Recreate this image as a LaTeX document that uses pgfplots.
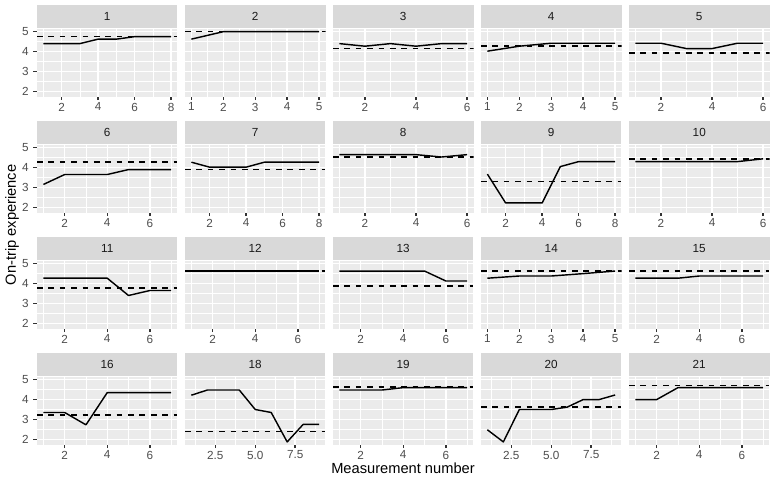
\documentclass[border=0pt]{standalone}
\usepackage{fontspec}
\setmainfont{Liberation Sans}
\usepackage{pgfplots}
\pgfplotsset{compat=1.18}

\definecolor{panelbg}{HTML}{EBEBEB}
\definecolor{stripbg}{HTML}{D9D9D9}
\definecolor{ticktext}{HTML}{4D4D4D}
\definecolor{tickline}{HTML}{333333}
\definecolor{striptext}{HTML}{1A1A1A}

\pgfplotsset{
  facet/.style={
    scale only axis, width=105.375pt, height=51pt,
    anchor=north west,
    ymin=1.74, ymax=5.16,
    ytick={2,3,4,5}, minor ytick={2.5,3.5,4.5},
    grid=both,
    major grid style={white, line width=1.07pt},
    minor grid style={white, line width=0.53pt},
    axis background/.style={fill=panelbg},
    axis line style={draw=none},
    tick pos=left, tick align=outside,
    major tick length=2.75pt, minor tick length=0pt,
    major tick style={draw=tickline, line width=1.07pt},
    minor tick style={draw=none},
    ticklabel style={font=\fontsize{8.8}{10}\selectfont, text=ticktext},
    xticklabel style={yshift=1.5pt},
    /pgf/number format/assume math mode=true,
    every axis title/.style={at={(0.5,1)}, anchor=south, fill=stripbg,
      minimum width=105.375pt, minimum height=17.25pt, inner sep=0pt,
      font=\fontsize{8.8}{10}\selectfont, text=striptext},
  },
  inner/.style={ymajorticks=false},
  xr5/.style={xmin=0.8, xmax=5.2, xtick={1,2,3,4,5}, minor xtick={1.5,2.5,3.5,4.5}},
  xr6/.style={xmin=0.75, xmax=6.25, xtick={2,4,6}, minor xtick={1,3,5}},
  xr7/.style={xmin=0.7, xmax=7.3, xtick={2,4,6}, minor xtick={1,3,5,7}},
  xr8/.style={xmin=0.65, xmax=8.35, xtick={2,4,6,8}, minor xtick={1,3,5,7}},
  xr9/.style={xmin=0.6, xmax=9.4, xtick={2.5,5,7.5}, xticklabels={2.5,5.0,7.5},
    minor xtick={1.25,3.75,6.25,8.75}},
  trend/.style={black, line width=1.07pt, line join=round},
  ref/.style={black, line width=1.07pt, dash pattern=on 4.27pt off 4.27pt},
}

\begin{document}
\begin{tikzpicture}
\path[use as bounding box] (0,0) rectangle (582pt,-361.5pt);

% ---------- row 1 ----------
\begin{axis}[facet, xr8, at={(27.75pt,-21.375pt)}, title={1}]
\addplot[trend] coordinates {(1,4.4)(2,4.4)(3,4.4)(4,4.625)(5,4.625)(6,4.75)(7,4.75)(8,4.75)};
\addplot[ref] coordinates {(0.65,4.75)(8.35,4.75)};
\end{axis}
\begin{axis}[facet, inner, xr5, at={(138.75pt,-21.375pt)}, title={2}]
\addplot[trend] coordinates {(1,4.625)(2,5)(3,5)(4,5)(5,5)};
\addplot[ref] coordinates {(0.8,5)(5.2,5)};
\end{axis}
\begin{axis}[facet, inner, xr6, at={(249.75pt,-21.375pt)}, title={3}]
\addplot[trend] coordinates {(1,4.4)(2,4.27)(3,4.4)(4,4.27)(5,4.4)(6,4.4)};
\addplot[ref] coordinates {(0.75,4.15)(6.25,4.15)};
\end{axis}
\begin{axis}[facet, inner, xr5, at={(360.75pt,-21.375pt)}, title={4}]
\addplot[trend] coordinates {(1,4.02)(2,4.27)(3,4.42)(4,4.42)(5,4.42)};
\addplot[ref] coordinates {(0.8,4.28)(5.2,4.28)};
\end{axis}
\begin{axis}[facet, inner, xr6, at={(471.75pt,-21.375pt)}, title={5}]
\addplot[trend] coordinates {(1,4.42)(2,4.42)(3,4.15)(4,4.15)(5,4.42)(6,4.42)};
\addplot[ref] coordinates {(0.75,3.92)(6.25,3.92)};
\end{axis}

% ---------- row 2 ----------
\begin{axis}[facet, xr7, at={(27.75pt,-108.375pt)}, title={6}]
\addplot[trend] coordinates {(1,3.15)(2,3.65)(3,3.65)(4,3.65)(5,3.9)(6,3.9)(7,3.9)};
\addplot[ref] coordinates {(0.7,4.27)(7.3,4.27)};
\end{axis}
\begin{axis}[facet, inner, xr8, at={(138.75pt,-108.375pt)}, title={7}]
\addplot[trend] coordinates {(1,4.27)(2,4.02)(3,4.02)(4,4.02)(5,4.27)(6,4.27)(7,4.27)(8,4.27)};
\addplot[ref] coordinates {(0.65,3.9)(8.35,3.9)};
\end{axis}
\begin{axis}[facet, inner, xr6, at={(249.75pt,-108.375pt)}, title={8}]
\addplot[trend] coordinates {(1,4.65)(2,4.65)(3,4.65)(4,4.65)(5,4.53)(6,4.65)};
\addplot[ref] coordinates {(0.75,4.53)(6.25,4.53)};
\end{axis}
\begin{axis}[facet, inner, xr8, at={(360.75pt,-108.375pt)}, title={9}]
\addplot[trend] coordinates {(1,3.67)(2,2.22)(3,2.22)(4,2.22)(5,4.05)(6,4.3)(7,4.3)(8,4.3)};
\addplot[ref] coordinates {(0.65,3.31)(8.35,3.31)};
\end{axis}
\begin{axis}[facet, inner, xr6, at={(471.75pt,-108.375pt)}, title={10}]
\addplot[trend] coordinates {(1,4.3)(2,4.3)(3,4.3)(4,4.3)(5,4.3)(6,4.44)};
\addplot[ref] coordinates {(0.75,4.44)(6.25,4.44)};
\end{axis}

% ---------- row 3 ----------
\begin{axis}[facet, xr7, at={(27.75pt,-195.375pt)}, title={11}]
\addplot[trend] coordinates {(1,4.27)(2,4.27)(3,4.27)(4,4.27)(5,3.4)(6,3.65)(7,3.65)};
\addplot[ref] coordinates {(0.7,3.77)(7.3,3.77)};
\end{axis}
\begin{axis}[facet, inner, xr7, at={(138.75pt,-195.375pt)}, title={12}]
\addplot[trend] coordinates {(1,4.63)(2,4.63)(3,4.63)(4,4.63)(5,4.63)(6,4.63)(7,4.63)};
\addplot[ref] coordinates {(0.7,4.63)(7.3,4.63)};
\end{axis}
\begin{axis}[facet, inner, xr7, at={(249.75pt,-195.375pt)}, title={13}]
\addplot[trend] coordinates {(1,4.63)(2,4.63)(3,4.63)(4,4.63)(5,4.63)(6,4.13)(7,4.13)};
\addplot[ref] coordinates {(0.7,3.88)(7.3,3.88)};
\end{axis}
\begin{axis}[facet, inner, xr5, at={(360.75pt,-195.375pt)}, title={14}]
\addplot[trend] coordinates {(1,4.27)(2,4.38)(3,4.38)(4,4.5)(5,4.63)};
\addplot[ref] coordinates {(0.8,4.63)(5.2,4.63)};
\end{axis}
\begin{axis}[facet, inner, xr7, at={(471.75pt,-195.375pt)}, title={15}]
\addplot[trend] coordinates {(1,4.27)(2,4.27)(3,4.27)(4,4.38)(5,4.38)(6,4.38)(7,4.38)};
\addplot[ref] coordinates {(0.7,4.63)(7.3,4.63)};
\end{axis}

% ---------- row 4 ----------
\begin{axis}[facet, xr7, at={(27.75pt,-282.375pt)}, title={16}]
\addplot[trend] coordinates {(1,3.35)(2,3.35)(3,2.73)(4,4.35)(5,4.35)(6,4.35)(7,4.35)};
\addplot[ref] coordinates {(0.7,3.23)(7.3,3.23)};
\end{axis}
\begin{axis}[facet, inner, xr9, at={(138.75pt,-282.375pt)}, title={18}]
\addplot[trend] coordinates {(1,4.22)(2,4.48)(3,4.48)(4,4.48)(5,3.5)(6,3.35)(7,1.87)(8,2.75)(9,2.75)};
\addplot[ref] coordinates {(0.6,2.38)(9.4,2.38)};
\end{axis}
\begin{axis}[facet, inner, xr7, at={(249.75pt,-282.375pt)}, title={19}]
\addplot[trend] coordinates {(1,4.48)(2,4.48)(3,4.48)(4,4.6)(5,4.6)(6,4.6)(7,4.6)};
\addplot[ref] coordinates {(0.7,4.63)(7.3,4.63)};
\end{axis}
\begin{axis}[facet, inner, xr9, at={(360.75pt,-282.375pt)}, title={20}]
\addplot[trend] coordinates {(1,2.48)(2,1.87)(3,3.5)(4,3.5)(5,3.5)(6,3.62)(7,4.0)(8,4.0)(9,4.23)};
\addplot[ref] coordinates {(0.6,3.62)(9.4,3.62)};
\end{axis}
\begin{axis}[facet, inner, xr7, at={(471.75pt,-282.375pt)}, title={21}]
\addplot[trend] coordinates {(1,4.0)(2,4.0)(3,4.6)(4,4.6)(5,4.6)(6,4.6)(7,4.6)};
\addplot[ref] coordinates {(0.7,4.72)(7.3,4.72)};
\end{axis}

% shared axis titles
\node[font=\fontsize{11}{13}\selectfont] at (302.25pt,-351pt) {Measurement number};
\node[font=\fontsize{11}{13}\selectfont, rotate=90] at (9pt,-168.75pt) {On-trip experience};
\end{tikzpicture}
\end{document}
